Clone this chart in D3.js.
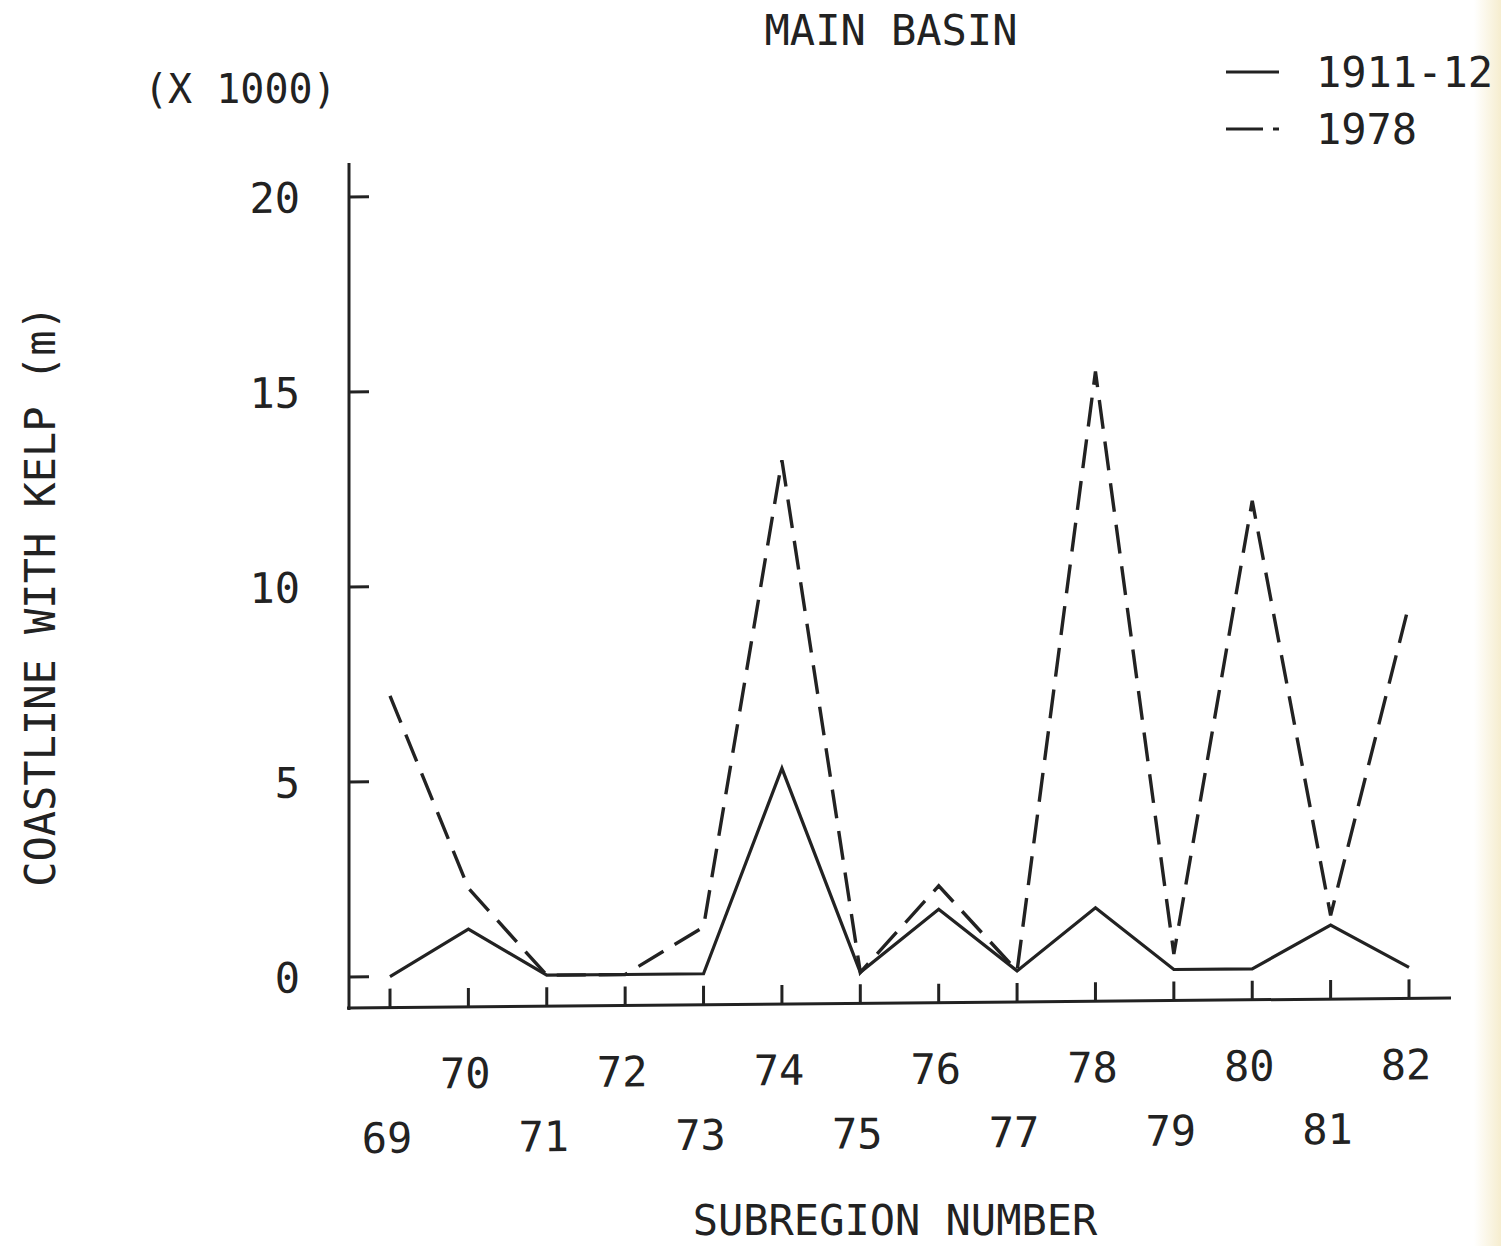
<!DOCTYPE html>
<html>
<head>
<meta charset="utf-8">
<script src="https://cdn.jsdelivr.net/npm/d3@7"></script>
<style>
  body { margin: 0; background: #fff; }
  text { font-family: "DejaVu Sans Mono", "Liberation Mono", monospace; fill: #222; }
</style>
</head>
<body>
<div id="vis"></div>
<script>
// datos (miles de metros)
const SUBREGIONS = [69, 70, 71, 72, 73, 74, 75, 76, 77, 78, 79, 80, 81, 82];
const KELP_1911 = [0, 1.2, 0, 0, 0, 5.25, 0, 1.6, 0, 1.6, 0, 0, 1.1, 0];
const KELP_1978 = [7.2, 2.25, 0, 0, 1.2, 13.15, 0, 2.2, 0, 15.35, 0.4, 12.0, 1.35, 9.3];
const Y_TICKS = [0, 5, 10, 15, 20];
const SERIES_NAMES = ["1911-12", "1978"];

const WIDTH = 1501;
const HEIGHT = 1246;
const INK = "#222";

const SVG = d3.select("#vis").append("svg")
  .attr("width", WIDTH).attr("height", HEIGHT);

// leve tinte amarillo del escaneo en el borde derecho
const defs = SVG.append("defs");
const grad = defs.append("linearGradient").attr("id", "edge")
  .attr("x1", "0").attr("x2", "1").attr("y1", "0").attr("y2", "0");
grad.append("stop").attr("offset", "0").attr("stop-color", "#fff");
grad.append("stop").attr("offset", "1").attr("stop-color", "#f6edcf");
SVG.append("rect").attr("x", 1474).attr("y", 0).attr("width", 27).attr("height", HEIGHT)
  .attr("fill", "url(#edge)");

const AXIS_X = 349;
const AXIS_Y = 1008;

const escalaX = d3.scaleLinear().domain([69, 82]).range([390, 1409]);
const escalaY = d3.scaleLinear().domain([0, 20]).range([977, 197]);

// el escaneo esta un poco inclinado: se imita con un skew alrededor del eje y
const plot = SVG.append("g")
  .attr("transform", `translate(${AXIS_X},0) skewY(-0.52) translate(${-AXIS_X},0)`);

// ejes
plot.append("line")
  .attr("x1", AXIS_X).attr("x2", AXIS_X)
  .attr("y1", 163).attr("y2", AXIS_Y + 2)
  .attr("stroke", INK).attr("stroke-width", 3);
plot.append("line")
  .attr("x1", AXIS_X - 2).attr("x2", 1451)
  .attr("y1", AXIS_Y).attr("y2", AXIS_Y)
  .attr("stroke", INK).attr("stroke-width", 3);

// ticks y (hacia adentro)
plot.selectAll(".ytick").data(Y_TICKS).join("line")
  .attr("class", "ytick")
  .attr("x1", AXIS_X).attr("x2", AXIS_X + 20)
  .attr("y1", d => escalaY(d)).attr("y2", d => escalaY(d))
  .attr("stroke", INK).attr("stroke-width", 3);
plot.selectAll(".ylab").data(Y_TICKS).join("text")
  .attr("class", "ylab")
  .attr("x", 300).attr("y", d => escalaY(d) + 15)
  .attr("text-anchor", "end")
  .attr("font-size", 42)
  .text(d => d);

// ticks x (hacia arriba)
plot.selectAll(".xtick").data(SUBREGIONS).join("line")
  .attr("class", "xtick")
  .attr("x1", d => escalaX(d)).attr("x2", d => escalaX(d))
  .attr("y1", AXIS_Y).attr("y2", AXIS_Y - 19)
  .attr("stroke", INK).attr("stroke-width", 3);
plot.selectAll(".xlab").data(SUBREGIONS).join("text")
  .attr("class", "xlab")
  .attr("x", d => escalaX(d) - 3)
  .attr("y", d => d % 2 === 0 ? 1089 : 1153)
  .attr("text-anchor", "middle")
  .attr("font-size", 42)
  .text(d => d);

// lineas
const linea = serie => d3.line()
  .x((d, i) => escalaX(SUBREGIONS[i]))
  .y(d => escalaY(d))(serie);

plot.append("path")
  .attr("d", linea(KELP_1911))
  .attr("fill", "none").attr("stroke", INK)
  .attr("stroke-width", 3.2).attr("stroke-linejoin", "miter");

plot.append("path")
  .attr("d", linea(KELP_1978))
  .attr("fill", "none").attr("stroke", INK)
  .attr("stroke-width", 3.4)
  .attr("stroke-dasharray", "29,13");

// textos
SVG.append("text")
  .attr("x", 891).attr("y", 45)
  .attr("text-anchor", "middle").attr("font-size", 42)
  .text("MAIN BASIN");

SVG.append("text")
  .attr("x", 144).attr("y", 103)
  .attr("font-size", 40)
  .text("(X 1000)");

SVG.append("text")
  .attr("transform", "translate(55,596) rotate(-90)")
  .attr("text-anchor", "middle").attr("font-size", 42)
  .text("COASTLINE WITH KELP (m)");

SVG.append("text")
  .attr("x", 895).attr("y", 1235)
  .attr("text-anchor", "middle").attr("font-size", 42)
  .text("SUBREGION NUMBER");

// leyenda
const legend = SVG.append("g");
const legendY = [72, 129];
legend.selectAll("line").data(SERIES_NAMES).join("line")
  .attr("x1", 1226).attr("x2", 1279)
  .attr("y1", (d, i) => legendY[i]).attr("y2", (d, i) => legendY[i])
  .attr("stroke", INK).attr("stroke-width", 3)
  .attr("stroke-dasharray", (d, i) => i === 0 ? null : "37,10,6,20");
legend.selectAll("text").data(SERIES_NAMES).join("text")
  .attr("x", 1316).attr("y", (d, i) => legendY[i] + 15)
  .attr("font-size", 42)
  .text(d => d);
</script>
</body>
</html>
